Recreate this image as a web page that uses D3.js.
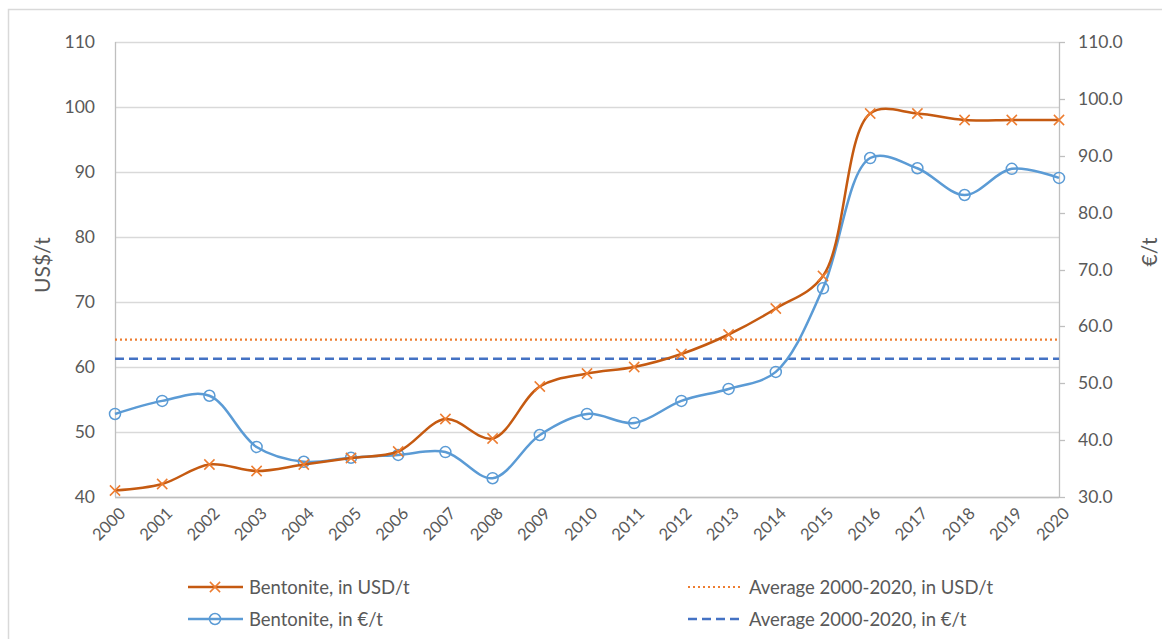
<!DOCTYPE html>
<html><head><meta charset="utf-8">
<script src="https://cdn.jsdelivr.net/npm/d3@7"></script>
<style>body{margin:0;background:#fff;} text{font-family:Lato,"Open Sans",sans-serif;}</style>
</head><body><svg id="c" width="1162" height="639"></svg>
<script>
const years = [2000,2001,2002,2003,2004,2005,2006,2007,2008,2009,2010,2011,2012,2013,2014,2015,2016,2017,2018,2019,2020];
const usd = [41,42,45,44,45,46,47,52,49,57,59,60,62,65,69,74,99,99,98,98,98];
const eur = [44.6,46.9,47.8,38.8,36.2,36.9,37.4,37.9,33.3,40.9,44.6,43.0,46.9,49.0,52.0,66.7,89.6,87.8,83.1,87.7,86.1];
const avgUsd = 64.2;
const avgEur = 54.3;
const leftTicks = [40,50,60,70,80,90,100,110];
const rightTicks = [30,40,50,60,70,80,90,100,110];
const legendLabels = ["Bentonite, in USD/t","Average 2000-2020, in USD/t","Bentonite, in €/t","Average 2000-2020, in €/t"];

const svg = d3.select("#c");
const L=115,R=1059,T=42,B=497;
const x = d3.scalePoint().domain(years).range([L,R]);
const yL = d3.scaleLinear().domain([40,110]).range([B,T]);
const yR = d3.scaleLinear().domain([30,110]).range([B,T]);
const cOr="#C55A11", cOrM="#ED7D31", cBl="#5B9BD5", cBlD="#4472C4", txt="#595959";

svg.append("rect").attr("x",8.5).attr("y",9.5).attr("width",1200).attr("height",700)
  .attr("fill","none").attr("stroke","#d9d9d9").attr("stroke-width",1.5);

// gridlines
svg.append("g").selectAll("line").data(leftTicks).join("line")
  .attr("x1",L).attr("x2",R).attr("y1",d=>Math.round(yL(d))+0.5).attr("y2",d=>Math.round(yL(d))+0.5)
  .attr("stroke","#d9d9d9").attr("stroke-width",1.3);
// axes lines
svg.append("line").attr("x1",L+0.5).attr("x2",L+0.5).attr("y1",T).attr("y2",B).attr("stroke","#bfbfbf").attr("stroke-width",1.3);
svg.append("line").attr("x1",R+0.5).attr("x2",R+0.5).attr("y1",T).attr("y2",B).attr("stroke","#bfbfbf").attr("stroke-width",1.3);
svg.append("line").attr("x1",L).attr("x2",R).attr("y1",B+0.5).attr("y2",B+0.5).attr("stroke","#bfbfbf").attr("stroke-width",1.3);
// right ticks
svg.append("g").selectAll("line").data(rightTicks).join("line")
  .attr("x1",R).attr("x2",R+6).attr("y1",d=>Math.round(yR(d))+0.5).attr("y2",d=>Math.round(yR(d))+0.5)
  .attr("stroke","#bfbfbf").attr("stroke-width",1.3);

// tick labels
svg.append("g").selectAll("text").data(leftTicks).join("text")
  .attr("x",95).attr("y",d=>yL(d)+6).attr("text-anchor","end").attr("font-size",17.5).attr("fill",txt).text(d=>d);
svg.append("g").selectAll("text").data(rightTicks).join("text")
  .attr("x",1078).attr("y",d=>yR(d)+6).attr("text-anchor","start").attr("font-size",17.5).attr("fill",txt).text(d=>d.toFixed(1));
svg.append("g").selectAll("text").data(years).join("text")
  .attr("transform",d=>`translate(${x(d)+3},${B+9}) rotate(-45)`)
  .attr("text-anchor","end").attr("dy","0.72em").attr("font-size",16.5).attr("fill",txt).text(d=>d);

// axis titles
svg.append("text").attr("transform","translate(50,265) rotate(-90)").attr("text-anchor","middle")
  .attr("font-size",21).attr("fill",txt).text("US$/t");
svg.append("text").attr("transform","translate(1157,252) rotate(-90)").attr("text-anchor","middle")
  .attr("font-size",21).attr("fill",txt).text("€/t");

// averages
svg.append("line").attr("x1",L).attr("x2",R).attr("y1",yL(avgUsd)).attr("y2",yL(avgUsd))
  .attr("stroke",cOrM).attr("stroke-width",2.2).attr("stroke-dasharray","2,3");
svg.append("line").attr("x1",L).attr("x2",R).attr("y1",yR(avgEur)).attr("y2",yR(avgEur))
  .attr("stroke",cBlD).attr("stroke-width",2.5).attr("stroke-dasharray","9,5");

const curve = d3.curveCatmullRom.alpha(0.5);
// eur line
svg.append("path").datum(eur).attr("fill","none").attr("stroke",cBl).attr("stroke-width",2.5)
  .attr("d",d3.line().x((d,i)=>x(years[i])).y(d=>yR(d)).curve(curve));
svg.append("g").selectAll("circle").data(eur).join("circle")
  .attr("cx",(d,i)=>x(years[i])).attr("cy",d=>yR(d)).attr("r",5.5)
  .attr("fill","none").attr("stroke",cBl).attr("stroke-width",1.5);
// usd line
svg.append("path").datum(usd).attr("fill","none").attr("stroke",cOr).attr("stroke-width",2.5)
  .attr("d",d3.line().x((d,i)=>x(years[i])).y(d=>yL(d)).curve(curve));
const xm = d3.symbol().type(d3.symbolX).size(70);
svg.append("g").selectAll("path").data(usd).join("path")
  .attr("transform",(d,i)=>`translate(${x(years[i])},${yL(d)})`).attr("d",xm)
  .attr("fill","none").attr("stroke",cOrM).attr("stroke-width",1.5);

// legend
const lg = svg.append("g");
function sym(x0,y,type){
  if(type===0){
    lg.append("line").attr("x1",x0).attr("x2",x0+55).attr("y1",y).attr("y2",y).attr("stroke",cOr).attr("stroke-width",2.5);
    lg.append("path").attr("transform",`translate(${x0+27},${y})`).attr("d",xm).attr("fill","none").attr("stroke",cOrM).attr("stroke-width",1.5);
  } else if(type===1){
    lg.append("line").attr("x1",x0).attr("x2",x0+55).attr("y1",y).attr("y2",y).attr("stroke",cOrM).attr("stroke-width",2.2).attr("stroke-dasharray","2,3");
  } else if(type===2){
    lg.append("line").attr("x1",x0).attr("x2",x0+55).attr("y1",y).attr("y2",y).attr("stroke",cBl).attr("stroke-width",2.5);
    lg.append("circle").attr("cx",x0+27).attr("cy",y).attr("r",5.5).attr("fill","none").attr("stroke",cBl).attr("stroke-width",1.5);
  } else {
    lg.append("line").attr("x1",x0).attr("x2",x0+55).attr("y1",y).attr("y2",y).attr("stroke",cBlD).attr("stroke-width",2.5).attr("stroke-dasharray","9,5");
  }
}
const pos = [[188,587],[688,587],[188,619],[688,619]];
legendLabels.forEach((t,i)=>{
  sym(pos[i][0],pos[i][1],i);
  lg.append("text").attr("x",pos[i][0]+61).attr("y",pos[i][1]+6.5).attr("font-size",18.5).attr("fill",txt).text(t);
});
</script></body></html>
